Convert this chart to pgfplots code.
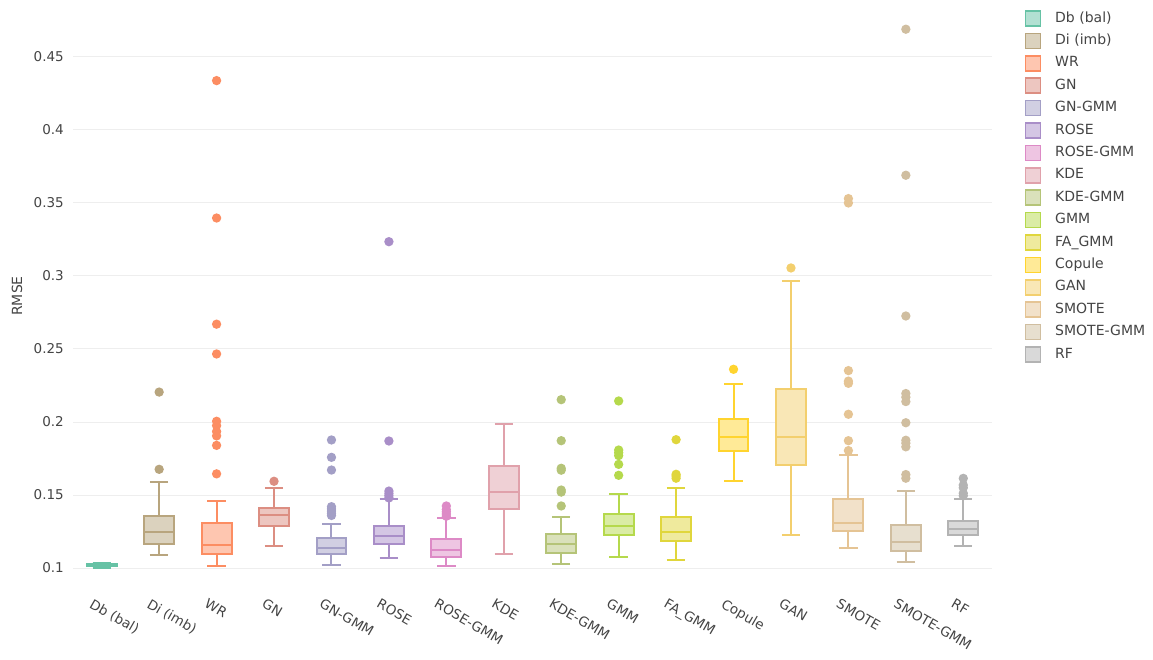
\documentclass[border=0pt]{standalone}
\usepackage{pgfplots}
\pgfplotsset{compat=1.18}
\usepgfplotslibrary{statistics}
\usepackage{fontspec}
\setmainfont{DejaVu Sans}

\definecolor{txt}{HTML}{444444}
\definecolor{grd}{HTML}{EEEEEE}
\definecolor{cDb}{HTML}{66C2A5}
\definecolor{cDi}{HTML}{B8A57E}
\definecolor{cWR}{HTML}{FC8D62}
\definecolor{cGN}{HTML}{DC8E82}
\definecolor{cGNG}{HTML}{A39FC6}
\definecolor{cROSE}{HTML}{A98EC8}
\definecolor{cROSEG}{HTML}{DD8AC6}
\definecolor{cKDE}{HTML}{E0A1AB}
\definecolor{cKDEG}{HTML}{B5C478}
\definecolor{cGMM}{HTML}{B5D94C}
\definecolor{cFA}{HTML}{E0D63C}
\definecolor{cCop}{HTML}{FFD42F}
\definecolor{cGAN}{HTML}{F3CF6E}
\definecolor{cSM}{HTML}{E5C494}
\definecolor{cSMG}{HTML}{D0BEA0}
\definecolor{cRF}{HTML}{B3B3B3}

\pgfplotsset{
  /pgfplots/boxplot/every whisker/.style={line width=2pt},
  /pgfplots/boxplot/every median/.style={line width=2pt},
  /pgfplots/boxplot/every box/.style={line width=2pt},
  bx/.style={forget plot, draw=#1, fill=#1!50!white, line width=2pt, solid,
    mark=*, mark size=3.6pt, mark options={draw=none, fill=#1},
    boxplot/draw direction=y,
    boxplot/box extend=0.52, boxplot/whisker extend=0.32},
}

\begin{document}
\begin{tikzpicture}
\useasboundingbox (0pt,0pt) rectangle (1153pt,660pt);
\begin{axis}[
  at={(73pt,80pt)}, anchor=south west,
  width=919pt, height=568pt, scale only axis,
  xmin=-0.5, xmax=15.5, ymin=0.0918, ymax=0.4808,
  xtick={0,...,15},
  xticklabels={Db (bal),Di (imb),WR,GN,GN-GMM,ROSE,ROSE-GMM,KDE,KDE-GMM,GMM,FA\_GMM,Copule,GAN,SMOTE,SMOTE-GMM,RF},
  ytick={0.1,0.15,0.2,0.25,0.3,0.35,0.4,0.45},
  yticklabel style={/pgf/number format/fixed, /pgf/number format/precision=2,
    /pgf/number format/assume math mode=true, anchor=east, inner sep=0pt, xshift=-9pt},
  xticklabel style={xshift=-8pt, yshift=-18pt, rotate=-30, anchor=north west, inner sep=0pt},
  ticklabel style={font=\fontsize{13.5}{16}\selectfont, text=txt},
  ymajorgrids=true, grid style={grd, line width=1pt},
  axis line style={draw=none}, major tick length=0pt,
  ylabel={RMSE},
  every axis y label/.style={at={(axis description cs:-0.0609,0.5)}, rotate=90, anchor=center,
    font=\fontsize{14}{16}\selectfont, text=txt},
  legend image code/.code={\draw[#1] (0pt,-7.5pt) rectangle (15pt,7.5pt);},
  legend style={at={(1.032,1.007)}, anchor=north west, draw=none, fill=none,
    font=\fontsize{14}{16}\selectfont, text=txt,
    nodes={inner sep=0pt, text height=10pt, text depth=3pt, anchor=west},
    row sep=5.8pt, column sep=14pt},
  legend cell align=left,
]

% Db (bal)
\addplot[bx=cDb, boxplot prepared={draw position=0, lower whisker=0.1003, lower quartile=0.1012,
  median=0.1021, upper quartile=0.1030, upper whisker=0.1036}] coordinates {};
% Di (imb)
\addplot[bx=cDi, boxplot prepared={draw position=1, lower whisker=0.1091, lower quartile=0.1162,
  median=0.1249, upper quartile=0.1356, upper whisker=0.1587}]
  table[row sep=\\, y index=0] {data\\ 0.1676\\ 0.2205\\};
% WR
\addplot[bx=cWR, boxplot prepared={draw position=2, lower whisker=0.1016, lower quartile=0.1098,
  median=0.1158, upper quartile=0.1306, upper whisker=0.1461}]
  table[row sep=\\, y index=0] {data\\ 0.1645\\ 0.1840\\ 0.1905\\ 0.1935\\ 0.1975\\ 0.2005\\ 0.2466\\ 0.2670\\ 0.3397\\ 0.4338\\};
% GN
\addplot[bx=cGN, boxplot prepared={draw position=3, lower whisker=0.1153, lower quartile=0.1288,
  median=0.1361, upper quartile=0.1413, upper whisker=0.1548}]
  table[row sep=\\, y index=0] {data\\ 0.1594\\};
% GN-GMM
\addplot[bx=cGNG, boxplot prepared={draw position=4, lower whisker=0.1018, lower quartile=0.1098,
  median=0.1135, upper quartile=0.1205, upper whisker=0.1299}]
  table[row sep=\\, y index=0] {data\\ 0.1360\\ 0.1375\\ 0.1390\\ 0.1405\\ 0.1420\\ 0.1671\\ 0.1758\\ 0.1877\\};
% ROSE
\addplot[bx=cROSE, boxplot prepared={draw position=5, lower whisker=0.1066, lower quartile=0.1164,
  median=0.1219, upper quartile=0.1290, upper whisker=0.1473}]
  table[row sep=\\, y index=0] {data\\ 0.1480\\ 0.1495\\ 0.1510\\ 0.1527\\ 0.1870\\ 0.3235\\};
% ROSE-GMM
\addplot[bx=cROSEG, boxplot prepared={draw position=6, lower whisker=0.1016, lower quartile=0.1078,
  median=0.1123, upper quartile=0.1197, upper whisker=0.1340}]
  table[row sep=\\, y index=0] {data\\ 0.1355\\ 0.1370\\ 0.1385\\ 0.1400\\ 0.1425\\};
% KDE
\addplot[bx=cKDE, boxplot prepared={draw position=7, lower whisker=0.1096, lower quartile=0.1404,
  median=0.1521, upper quartile=0.1699, upper whisker=0.1986}] coordinates {};
% KDE-GMM
\addplot[bx=cKDEG, boxplot prepared={draw position=8, lower whisker=0.1027, lower quartile=0.1103,
  median=0.1162, upper quartile=0.1233, upper whisker=0.1351}]
  table[row sep=\\, y index=0] {data\\ 0.1425\\ 0.1520\\ 0.1534\\ 0.1670\\ 0.1683\\ 0.1872\\ 0.2153\\};
% GMM
\addplot[bx=cGMM, boxplot prepared={draw position=9, lower whisker=0.1073, lower quartile=0.1224,
  median=0.1290, upper quartile=0.1368, upper whisker=0.1507}]
  table[row sep=\\, y index=0] {data\\ 0.1635\\ 0.1710\\ 0.1770\\ 0.1790\\ 0.1808\\ 0.2144\\};
% FA_GMM
\addplot[bx=cFA, boxplot prepared={draw position=10, lower whisker=0.1057, lower quartile=0.1185,
  median=0.1247, upper quartile=0.1351, upper whisker=0.1550}]
  table[row sep=\\, y index=0] {data\\ 0.1615\\ 0.1630\\ 0.1642\\ 0.1879\\};
% Copule
\addplot[bx=cCop, boxplot prepared={draw position=11, lower whisker=0.1596, lower quartile=0.1801,
  median=0.1897, upper quartile=0.2018, upper whisker=0.2260}]
  table[row sep=\\, y index=0] {data\\ 0.2361\\};
% GAN
\addplot[bx=cGAN, boxplot prepared={draw position=12, lower whisker=0.1226, lower quartile=0.1708,
  median=0.1897, upper quartile=0.2228, upper whisker=0.2966}]
  table[row sep=\\, y index=0] {data\\ 0.3055\\};
% SMOTE
\addplot[bx=cSM, boxplot prepared={draw position=13, lower whisker=0.1139, lower quartile=0.1251,
  median=0.1310, upper quartile=0.1470, upper whisker=0.1774}]
  table[row sep=\\, y index=0] {data\\ 0.1804\\ 0.1872\\ 0.2053\\ 0.2265\\ 0.2280\\ 0.2352\\ 0.3500\\ 0.3530\\};
% SMOTE-GMM
\addplot[bx=cSMG, boxplot prepared={draw position=14, lower whisker=0.1041, lower quartile=0.1116,
  median=0.1180, upper quartile=0.1297, upper whisker=0.1527}]
  table[row sep=\\, y index=0] {data\\ 0.1615\\ 0.1640\\ 0.1830\\ 0.1855\\ 0.1875\\ 0.1995\\ 0.2140\\ 0.2170\\ 0.2195\\ 0.2726\\ 0.3690\\ 0.4690\\};
% RF
\addplot[bx=cRF, boxplot prepared={draw position=15, lower whisker=0.1153, lower quartile=0.1224,
  median=0.1265, upper quartile=0.1324, upper whisker=0.1473}]
  table[row sep=\\, y index=0] {data\\ 0.1495\\ 0.1512\\ 0.1550\\ 0.1568\\ 0.1614\\};

\addlegendimage{draw=cDb, fill=cDb!50!white, line width=1.6pt}\addlegendentry{Db (bal)}
\addlegendimage{draw=cDi, fill=cDi!50!white, line width=1.6pt}\addlegendentry{Di (imb)}
\addlegendimage{draw=cWR, fill=cWR!50!white, line width=1.6pt}\addlegendentry{WR}
\addlegendimage{draw=cGN, fill=cGN!50!white, line width=1.6pt}\addlegendentry{GN}
\addlegendimage{draw=cGNG, fill=cGNG!50!white, line width=1.6pt}\addlegendentry{GN-GMM}
\addlegendimage{draw=cROSE, fill=cROSE!50!white, line width=1.6pt}\addlegendentry{ROSE}
\addlegendimage{draw=cROSEG, fill=cROSEG!50!white, line width=1.6pt}\addlegendentry{ROSE-GMM}
\addlegendimage{draw=cKDE, fill=cKDE!50!white, line width=1.6pt}\addlegendentry{KDE}
\addlegendimage{draw=cKDEG, fill=cKDEG!50!white, line width=1.6pt}\addlegendentry{KDE-GMM}
\addlegendimage{draw=cGMM, fill=cGMM!50!white, line width=1.6pt}\addlegendentry{GMM}
\addlegendimage{draw=cFA, fill=cFA!50!white, line width=1.6pt}\addlegendentry{FA\_GMM}
\addlegendimage{draw=cCop, fill=cCop!50!white, line width=1.6pt}\addlegendentry{Copule}
\addlegendimage{draw=cGAN, fill=cGAN!50!white, line width=1.6pt}\addlegendentry{GAN}
\addlegendimage{draw=cSM, fill=cSM!50!white, line width=1.6pt}\addlegendentry{SMOTE}
\addlegendimage{draw=cSMG, fill=cSMG!50!white, line width=1.6pt}\addlegendentry{SMOTE-GMM}
\addlegendimage{draw=cRF, fill=cRF!50!white, line width=1.6pt}\addlegendentry{RF}
\end{axis}
\end{tikzpicture}
\end{document}
